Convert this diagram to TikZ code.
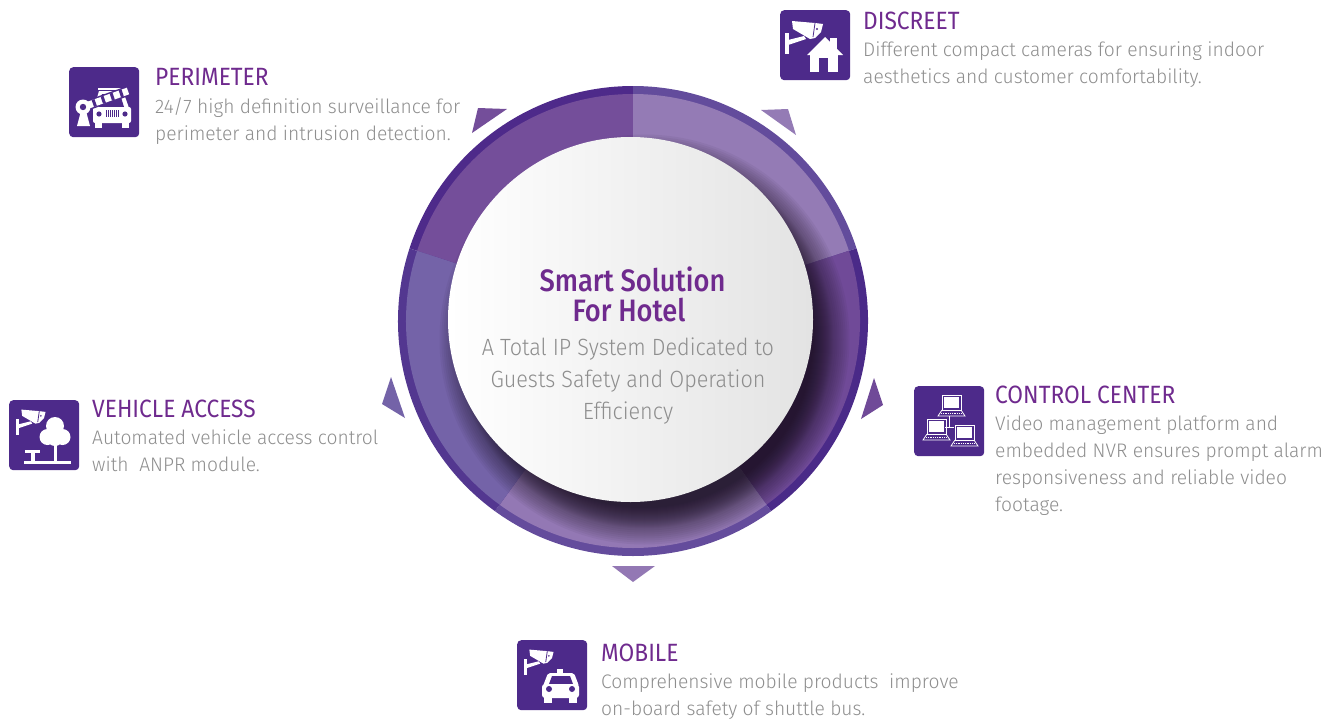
\documentclass[tikz,border=0pt]{standalone}
\usepackage{fontspec}
\usetikzlibrary{calc}
\setmainfont{Fira Sans}[UprightFont=* Light,BoldFont=* Medium,FakeStretch=0.98]
\newfontfamily\hubtextfont{Fira Sans Light}[FakeStretch=0.92]
\newfontfamily\headfont{Fira Sans}[FakeStretch=0.91]
\newfontfamily\hubfont{Fira Sans Medium}[FakeStretch=0.88]
\definecolor{iconpurple}{HTML}{4D2A8A}
\definecolor{headpurple}{HTML}{6F2A8E}
\definecolor{bodygray}{HTML}{8E8E8E}
\definecolor{shadowdark}{HTML}{1A1020}
\definecolor{segtl}{HTML}{744E9A}
\definecolor{segtr}{HTML}{947BB5}
\definecolor{segrt}{HTML}{704A98}
\definecolor{segbt}{HTML}{9378B4}
\definecolor{seglf}{HTML}{7463A8}
\definecolor{rimtl}{HTML}{4E2A8A}
\definecolor{rimtr}{HTML}{634C9C}
\definecolor{rimrt}{HTML}{4A2A88}
\definecolor{rimbt}{HTML}{644C9C}
\definecolor{rimlf}{HTML}{533790}
\tikzset{
	iconbox/.style={fill=iconpurple,rounded corners=4pt,minimum size=70pt,inner sep=0pt,anchor=north west},
	headtext/.style={anchor=base west,inner sep=0pt,text=headpurple,font=\headfont\fontsize{25}{27}\selectfont},
	bodytext/.style={anchor=north west,inner sep=0pt,align=left,text=bodygray,font=\fontsize{19.6}{26.7}\selectfont},
	camera/.pic={
		\fill[white] (12,11) -- (35,13) -- (43,14) -- (41,22) -- (35,28) -- (30,29) -- (13,19) -- cycle;
		\draw[iconpurple,line width=0.8pt] (35,13) -- (33,27);
		\fill[iconpurple] (37,19) circle (1.2pt);
		\fill[white] (5,23) rectangle (8.5,44);
		\fill[white] (8,30) -- (24,26) -- (26,29) -- (8,35) -- cycle;
	},
	laptop/.pic={
		\draw[white,line width=0.8pt] (0,0) rectangle (19,15);
		\fill[white] (1.8,1.8) rectangle (17.2,13.2);
		\draw[white,line width=0.8pt] (0,15) -- (-4,21) -- (23,21) -- (19,15);
		\draw[white,line width=0.8pt,densely dotted] (-1,18) -- (20,18);
	},
}
\begin{document}
\begin{tikzpicture}[x=1pt,y=-1pt]
	\useasboundingbox (0,0) rectangle (1330,723);
	\coordinate (hub) at (633,321);
	\coordinate (face) at (630.5,319.5);

	% ring segments
	\foreach \a/\seg/\rim in {90/segtl/rimtl,18/segtr/rimtr,-54/segrt/rimrt,-126/segbt/rimbt,162/seglf/rimlf}{
		\fill[\rim] (hub) -- ++(\a:235pt) arc[start angle=\a,delta angle=72,radius=235pt] -- cycle;
		\fill[\seg] (hub) -- ++(\a:227pt) arc[start angle=\a,delta angle=72,radius=227pt] -- cycle;
	}

	% soft shadow of the centre disc
	\begin{scope}
		\clip (hub) circle[radius=227pt];
		\foreach \r in {205,203,...,191,189,188,...,168}
			\fill[shadowdark,opacity=0.05] (644.5,339.5) circle[radius=\r pt];
	\end{scope}

	\shade[left color=white,right color=black!11] (face) circle[radius=182.5pt];

	% pointers
	\fill[segtl] (478,108) -- (507,109) -- (472,133) -- cycle;
	\fill[segtr] (761,110) -- (788,109) -- (796,135) -- cycle;
	\fill[segrt] (874,378) -- (883,405) -- (861,419) -- cycle;
	\fill[segbt] (612,566) -- (655,566) -- (633,582) -- cycle;
	\fill[seglf] (391,377) -- (405,418) -- (382,404) -- cycle;

	% centre text
	\node[inner sep=0pt,text=headpurple,font=\hubfont\fontsize{31}{31}\selectfont] (hubtitlea) at (632.5,279.5) {Smart Solution};
	\node[inner sep=0pt,text=headpurple,font=\hubfont\fontsize{31}{31}\selectfont] (hubtitleb) at (629,310.5) {For Hotel};
	\node[inner sep=0pt,align=center,text=bodygray,font=\hubtextfont\fontsize{23.5}{32}\selectfont] (hubtext) at (628,381)
		{A Total IP System Dedicated to\\Guests Safety and Operation\\Efficiency};

	% perimeter
	\node[iconbox] (perimbox) at (69,67) {};
	\begin{scope}[shift={(perimbox.north west)}]
		\fill[white] (29,21) rectangle (54,22.5);
		\fill[white] (25,41) -- (30,24) -- (54,24) -- (60,41) -- cycle;
		\fill[iconpurple] (30,40) -- (33,27) -- (51,27) -- (55,40) -- cycle;
		\fill[white,rounded corners=2pt] (24,40) rectangle (62,56);
		\fill[white] (26,55) rectangle (33,61);
		\fill[white] (53,55) rectangle (60,61);
		\fill[iconpurple] (30,47) circle (2.6pt) (56,47) circle (2.6pt);
		\foreach \x in {37,39,...,49}
			\fill[iconpurple] (\x,43) rectangle ++(1,7);
		\draw[iconpurple,line width=10pt] (14,40) -- (59,24);
		\draw[white,line width=7pt] (14,40) -- (59,24);
		\foreach \t in {0.25,0.45,0.65,0.85}
			\draw[iconpurple,line width=3pt] ($(14,40)!\t!(59,24)+(-1.2,-3.5)$) -- ++(2.4,7);
		\fill[white] (8,59) -- (21,59) -- (17,44) -- (12,44) -- cycle;
		\fill[white] (14,40) circle (7.5pt);
		\fill[iconpurple] (14,40) circle (3.2pt);
	\end{scope}
	\node[headtext] (perimhead) at (155,85.5) {PERIMETER};
	\node[bodytext] (perimbody) at (155,97.5) {24/7 high definition surveillance for\\perimeter and intrusion detection.};

	% discreet
	\node[iconbox] (discbox) at (780,10) {};
	\pic at (discbox.north west) {camera};
	\begin{scope}[shift={(discbox.north west)}]
		\fill[white] (50,28) rectangle (57,40);
		\fill[white] (27,45) -- (45,27) -- (63,45) -- cycle;
		\fill[white] (30,44) rectangle (58,62);
		\fill[iconpurple] (39,48) rectangle (48,62);
	\end{scope}
	\node[headtext] (dischead) at (863,29.5) {DISCREET};
	\node[bodytext] (discbody) at (863,42) {Different compact cameras for ensuring indoor\\aesthetics and customer comfortability.};

	% control center
	\node[iconbox] (ctrlbox) at (914,386) {};
	\begin{scope}[shift={(ctrlbox.north west)}]
		\draw[white,line width=1pt] (35,30) -- (35,41) (31,41) -- (40,41);
		\pic at (28,9) {laptop};
		\pic at (13,33) {laptop};
		\pic at (41,39) {laptop};
	\end{scope}
	\node[headtext] (ctrlhead) at (995,403) {CONTROL CENTER};
	\node[bodytext] (ctrlbody) at (995,416) {Video management platform and\\embedded NVR ensures prompt alarm\\responsiveness and reliable video\\footage.};

	% vehicle access
	\node[iconbox] (vehibox) at (9,400) {};
	\pic[scale=0.78] at ($(vehibox.north west)+(3,1)$) {camera};
	\begin{scope}[shift={(vehibox.north west)}]
		\fill[white] (46,26) circle (9pt) (38.5,37) circle (8pt) (53.5,37) circle (8pt) (46,38) circle (8pt);
		\fill[white] (44.5,40) rectangle (47.5,62);
		\fill[white] (15,61) rectangle (62,64);
		\fill[white] (16,50) rectangle (31,53);
		\fill[white] (22,50) rectangle (25.5,62);
	\end{scope}
	\node[headtext] (vehihead) at (92,417.5) {VEHICLE ACCESS};
	\node[bodytext] (vehibody) at (92,430) {Automated vehicle access control\\with\ \ ANPR module.};

	% mobile
	\node[iconbox] (mobibox) at (517,640) {};
	\pic[scale=0.78] at ($(mobibox.north west)+(3,1)$) {camera};
	\begin{scope}[shift={(mobibox.north west)}]
		\fill[white] (40,29) rectangle (46,33);
		\fill[white,rounded corners=2pt] (31,33) -- (57,33) -- (62,46) -- (26,46) -- cycle;
		\fill[iconpurple] (35,36) -- (53,36) -- (56,44) -- (32,44) -- cycle;
		\fill[white,rounded corners=3pt] (25,44) rectangle (62,58);
		\fill[white] (27,56) rectangle (35,63);
		\fill[white] (52,56) rectangle (60,63);
		\fill[iconpurple] (32,49) circle (3pt) (55,49) circle (3pt);
	\end{scope}
	\node[headtext] (mobihead) at (601,661.5) {MOBILE};
	\node[bodytext] (mobibody) at (601,673.5) {Comprehensive mobile products\ \ improve\\on-board safety of shuttle bus.};
\end{tikzpicture}
\end{document}
